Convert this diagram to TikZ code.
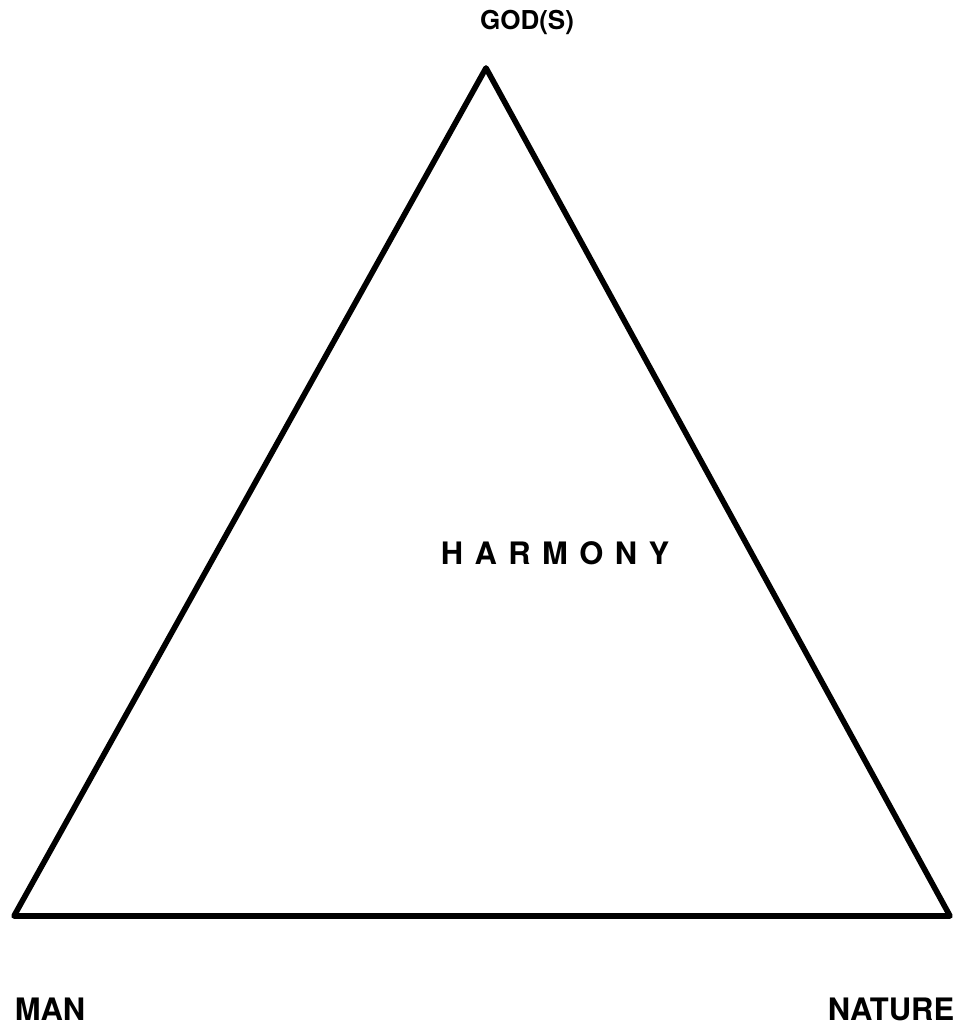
\documentclass[tikz,border=0pt]{standalone}
\usepackage{fontspec}
\setmainfont{TeX Gyre Heros}

\begin{document}
\begin{tikzpicture}[
    x=0.025cm, y=-0.025cm,
    side/.style={line width=4pt, draw=black, line join=round, line cap=round},
    corner/.style={font=\fontsize{22}{24}\selectfont\bfseries},
    apexlabel/.style={font=\fontsize{18.5}{20}\selectfont\bfseries},
    centerlabel/.style={font=\fontsize{22}{24}\selectfont\bfseries\addfontfeature{LetterSpace=37}}
]
    \useasboundingbox (0,0) rectangle (961,1029);

    % Corners of the triangle
    \coordinate (god) at (486, 68);
    \coordinate (man) at (14, 916);
    \coordinate (nature) at (950, 916);

    % The triangle
    \draw[side] (god) -- (man) -- (nature) -- cycle;

    % Labels
    \node[apexlabel] (godlabel) at (527, 22) {GOD(S)};
    \node[corner] (manlabel) at (50, 1009) {MAN};
    \node[corner] (naturelabel) at (891, 1009) {NATURE};
    \node[centerlabel] (harmony) at (555, 553) {HARMONY};

\end{tikzpicture}
\end{document}
